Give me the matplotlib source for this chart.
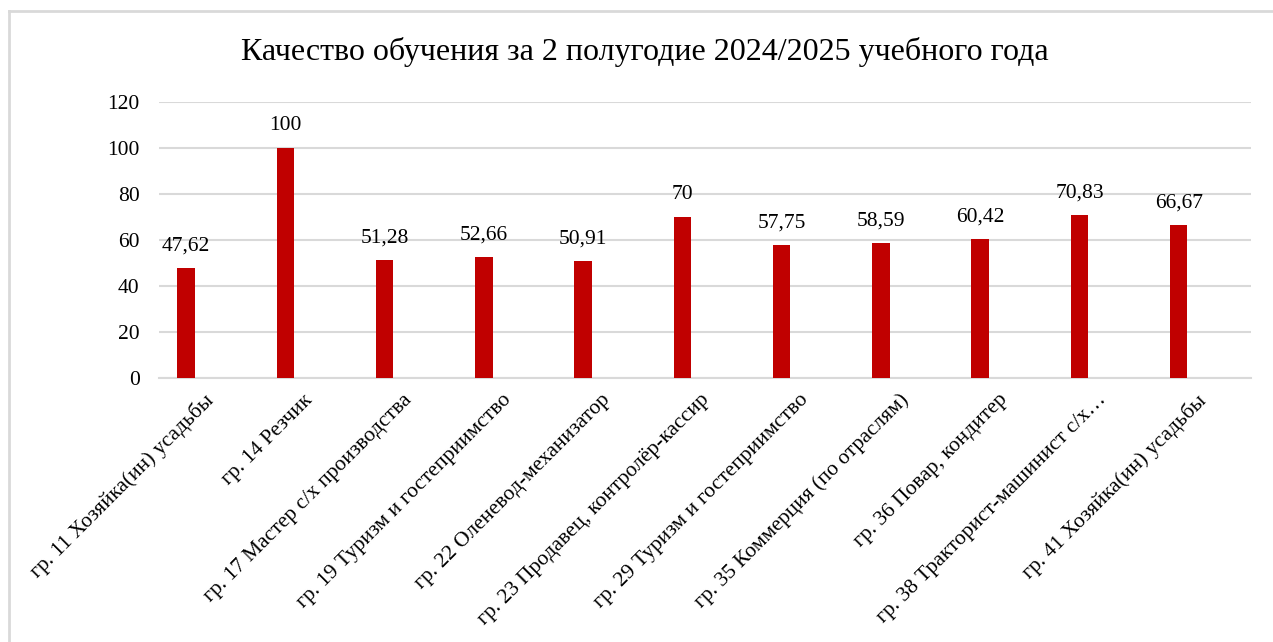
import matplotlib.pyplot as plt
import matplotlib.transforms as mtransforms
from matplotlib.lines import Line2D

# ── Data ─────────────────────────────────────────────────────────────────────
groups = [
    "гр. 11 Хозяйка(ин) усадьбы",
    "гр. 14 Резчик",
    "гр. 17 Мастер с/х производства",
    "гр. 19 Туризм и гостеприимство",
    "гр. 22 Оленевод-механизатор",
    "гр. 23 Продавец, контролёр-кассир",
    "гр. 29 Туризм и гостеприимство",
    "гр. 35 Коммерция (по отраслям)",
    "гр. 36 Повар, кондитер",
    "гр. 38 Тракторист-машинист с/х…",
    "гр. 41 Хозяйка(ин) усадьбы",
]
quality = [47.62, 100, 51.28, 52.66, 50.91, 70, 57.75, 58.59, 60.42, 70.83, 66.67]
value_labels = ["47,62", "100", "51,28", "52,66", "50,91", "70",
                "57,75", "58,59", "60,42", "70,83", "66,67"]
yticks = [0, 20, 40, 60, 80, 100, 120]

TITLE = "Качество обучения за 2 полугодие 2024/2025 учебного года"
BAR_COLOR = "#C00000"
GRID_COLOR = "#D9D9D9"
BAR_SHIFT = -0.228   # bars sit left of the category centre (Excel cluster slot)

plt.rcParams["font.family"] = ["Liberation Serif", "DejaVu Serif"]

fig = plt.figure(figsize=(12.73, 6.42), dpi=100)
ax = fig.add_axes([159 / 1273, 1 - 378 / 642, (1251 - 159) / 1273, (378 - 102) / 642])

x = list(range(len(groups)))
xb = [xi + BAR_SHIFT for xi in x]
ax.bar(xb, quality, width=0.175, color=BAR_COLOR, zorder=3)

for xi, v, lab in zip(xb, quality, value_labels):
    ax.annotate(lab, (xi, v), xytext=(0, 9), textcoords="offset points",
                ha="center", va="bottom", fontsize=15.5, color="#000000")

ax.set_xlim(-0.5, len(groups) - 0.5)
ax.set_ylim(0, 120)
ax.set_yticks(yticks)
ax.set_yticklabels([str(t) for t in yticks], fontsize=15.5)
ax.grid(axis="y", color=GRID_COLOR, linewidth=1.5, zorder=0)
ax.tick_params(axis="y", length=0, pad=14)
ax.tick_params(axis="x", length=0, pad=9)
for s in ["top", "right", "left"]:
    ax.spines[s].set_visible(False)
ax.spines["bottom"].set_color(GRID_COLOR)
ax.spines["bottom"].set_linewidth(1.5)

ax.set_xticks(x)
ax.set_xticklabels(groups, rotation=45, ha="right", va="top",
                   rotation_mode="anchor", fontsize=15.5)
offset = mtransforms.ScaledTranslation(-5 / 100, 0, fig.dpi_scale_trans)
for lbl in ax.get_xticklabels():
    lbl.set_transform(lbl.get_transform() + offset)

fig.text(645 / 1273, 1 - 52 / 642, TITLE, ha="center", va="center", fontsize=23)

# chart frame (left and top edges visible)
fig.add_artist(Line2D([8.5 / 1273, 1.0], [1 - 11 / 642, 1 - 11 / 642],
                      transform=fig.transFigure, color=GRID_COLOR, linewidth=2))
fig.add_artist(Line2D([8.5 / 1273, 8.5 / 1273], [0, 1 - 11 / 642],
                      transform=fig.transFigure, color=GRID_COLOR, linewidth=2))

fig.savefig("out.png", dpi=100)
